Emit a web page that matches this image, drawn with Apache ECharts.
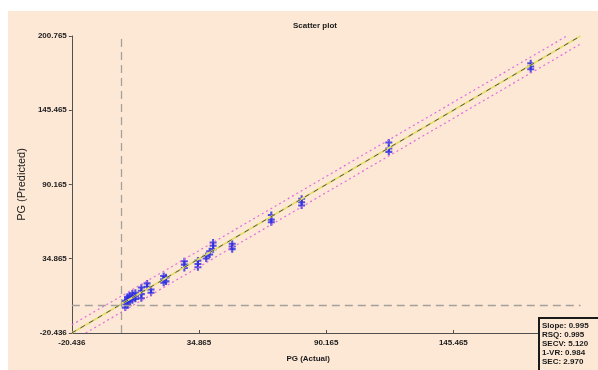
<!DOCTYPE html>
<html>
<head>
<meta charset="utf-8">
<script src="https://cdn.jsdelivr.net/npm/echarts@6/dist/echarts.min.js"></script>
<style>
  html, body { margin: 0; padding: 0; background: #fff; }
  #chart { position: absolute; left: 8px; top: 11px; width: 590px; height: 359px; background: #fde8d6; }
</style>
</head>
<body>
<div id="chart"></div>
<script>
// axis ticks (same for both axes)
var tickValues = [-20.436, 34.865, 90.165, 145.465, 200.765]
var axisMin = -20.436
var axisMax = 200.765

// replicate predictions per sample: actual value, predicted values
var actual = [2.8, 3.8, 4.7, 5.9, 7.2, 9.8, 12.3, 14.0, 19.5, 20.5, 28.5, 34.4, 38.0, 39.5, 41.0, 49.3, 66.3, 79.5, 117.4, 179.1]
var predicted = [
  [-1.5, 1.0, 3.5],
  [0.5, 2.5, 4.5, 6.5],
  [3.0, 5.5, 7.5],
  [4.0, 6.5, 9.0],
  [5.0, 7.0, 9.5],
  [5.5, 8.5, 11.0, 13.5],
  [14.0, 16.5],
  [9.5, 12.0],
  [17.0, 19.5, 22.0],
  [18.0, 21.0],
  [28.0, 30.5, 33.0],
  [28.5, 31.0, 33.5],
  [35.0, 37.0],
  [38.0, 40.5],
  [42.0, 44.5, 47.0],
  [42.0, 44.0, 46.0],
  [62.0, 64.0, 67.5],
  [74.5, 77.0, 79.5],
  [114.5, 117.0, 121.5],
  [176.0, 178.0, 180.5]
]

// fitted line and confidence band end points
var fitLine = [[-20.436, -20.436], [200.765, 200.765]]
var upperBand = [[-20.436, -14.4], [194.8, 200.765]]
var lowerBand = [[-14.4, -20.436], [200.765, 194.8]]
var refX = 1.2
var refY = 0.4

var stats = ['Slope: 0.995', 'RSQ: 0.995', 'SECV: 5.120', '1-VR: 0.984', 'SEC: 2.970']

var points = []
for (var i = 0; i < actual.length; i++) {
  for (var j = 0; j < predicted[i].length; j++) {
    points.push([actual[i], predicted[i][j]])
  }
}

var chart = echarts.init(document.getElementById('chart'))
var labelFont = { fontFamily: 'Liberation Sans', fontSize: 8, fontWeight: 'bold', color: '#1a1a1a' }
var plus = 'path://M3.5,0H6.5V3.5H10V6.5H6.5V10H3.5V6.5H0V3.5H3.5Z'

var option = {
  animation: false,
  backgroundColor: 'transparent',
  title: {
    text: 'Scatter plot',
    left: 302,
    top: 6,
    textAlign: 'center',
    textStyle: { fontFamily: 'Liberation Sans', fontSize: 8, fontWeight: 'bold', color: '#1a1a1a' }
  },
  grid: { left: 60, right: 10, top: 25, bottom: 37 },
  xAxis: {
    type: 'value',
    min: axisMin,
    max: axisMax,
    name: 'PG (Actual)',
    nameLocation: 'middle',
    nameGap: 22,
    nameTextStyle: { fontFamily: 'Liberation Sans', fontSize: 8, fontWeight: 'bold', color: '#1a1a1a', padding: [0, 36, 0, 0] },
    axisLine: { onZero: false, lineStyle: { color: '#505050', width: 1 } },
    axisTick: { inside: true, length: 3, customValues: tickValues, lineStyle: { color: '#505050' } },
    axisLabel: Object.assign({ margin: 6, customValues: tickValues, formatter: function (v) { return v.toFixed(3) } }, labelFont),
    splitLine: { show: false }
  },
  yAxis: {
    type: 'value',
    min: axisMin,
    max: axisMax,
    name: 'PG (Predicted)',
    nameLocation: 'middle',
    nameGap: 44,
    nameTextStyle: { fontFamily: 'Liberation Sans', fontSize: 11, color: '#1a1a1a' },
    axisLine: { show: true, onZero: false, lineStyle: { color: '#505050', width: 1 } },
    axisTick: { show: true, length: 3, customValues: tickValues, lineStyle: { color: '#505050' } },
    axisLabel: Object.assign({ margin: 5, customValues: tickValues, formatter: function (v) { return v.toFixed(3) } }, labelFont),
    splitLine: { show: false }
  },
  series: [
    {
      type: 'line', data: upperBand, symbol: 'none', silent: true,
      lineStyle: { color: '#e26ae2', width: 1.2, type: [2, 3] }
    },
    {
      type: 'line', data: lowerBand, symbol: 'none', silent: true,
      lineStyle: { color: '#e26ae2', width: 1.2, type: [2, 3] }
    },
    {
      type: 'line', data: fitLine, symbol: 'none', silent: true,
      lineStyle: { color: '#e6de6a', width: 2 }
    },
    {
      type: 'line', data: fitLine, symbol: 'none', silent: true,
      lineStyle: { color: '#55554a', width: 1, type: [5, 5] }
    },
    {
      type: 'line', symbol: 'none', silent: true, data: [],
      markLine: {
        silent: true,
        symbol: 'none',
        label: { show: false },
        lineStyle: { color: '#a5a09a', width: 1.3, type: [8, 5] },
        data: [{ xAxis: refX }, { yAxis: refY }]
      }
    },
    {
      type: 'scatter',
      data: points,
      symbol: plus,
      symbolSize: 7,
      itemStyle: { color: '#2b2be0' }
    }
  ],
  graphic: [
    {
      type: 'group',
      left: 530,
      top: 306,
      z: 100,
      children: [
        {
          type: 'rect',
          z: 100,
          shape: { x: 0, y: 0, width: 62, height: 55 },
          style: { fill: '#fde8d6', stroke: '#1a1a1a', lineWidth: 2 }
        },
        {
          type: 'text',
          z: 101,
          x: 3,
          y: 3,
          style: {
            text: stats.join('\n'),
            font: 'bold 8px "Liberation Sans"',
            lineHeight: 9,
            fill: '#1a1a1a'
          }
        }
      ]
    }
  ]
}
chart.setOption(option)
</script>
</body>
</html>
